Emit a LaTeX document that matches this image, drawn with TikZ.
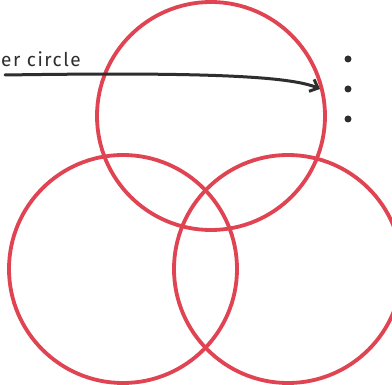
\documentclass[tikz,border=0pt]{standalone}
\usepackage{fontspec}
\setmainfont{Fira Sans}
\usetikzlibrary{arrows.meta}
\definecolor{ringred}{HTML}{E04452}
\definecolor{ink}{HTML}{2E2E2E}
\tikzset{
  ring/.style={circle, draw=ringred, line width=3.8pt, minimum size=228pt, inner sep=0pt},
  bulletdot/.style={circle, fill=ink, minimum size=7pt, inner sep=0pt},
  pointer/.style={draw=ink, line width=3pt, line cap=round, -{Straight Barb[length=7pt,width=13pt,line width=3pt]}}
}
\begin{document}
\begin{tikzpicture}[x=1pt,y=-1pt]
\useasboundingbox (0,0) rectangle (392,385);
\clip (0,0) rectangle (392,385);
\fill[white] (0,0) rectangle (392,385);
\node[ring] (top) at (211,116) {};
\node[ring] (left) at (123,269) {};
\node[ring] (right) at (288,269) {};
\node[bulletdot] (d1) at (348,59) {};
\node[bulletdot] (d2) at (348,89) {};
\node[bulletdot] (d3) at (348,119) {};
\node[anchor=base west, inner sep=0pt, text=ink, font=\fontsize{19}{23}\selectfont\addfontfeatures{LetterSpace=8}] (lbl) at (1,67) {er circle};
\coordinate (tip) at (320,89);
\draw[pointer] (5,75) .. controls (200,72) and (290,76) .. (tip);
\end{tikzpicture}
\end{document}
